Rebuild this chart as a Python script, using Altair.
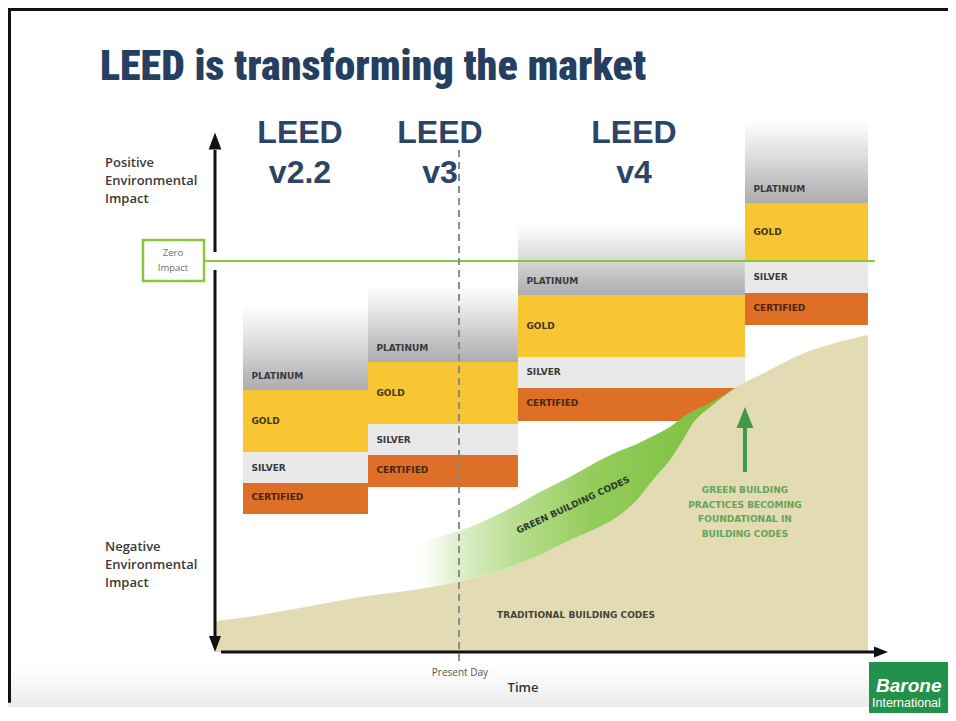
import altair as alt
import pandas as pd

# ------------------------------------------------------------------ data
TITLE = "LEED is transforming the market"

# rating columns (time units: 0 = vertical axis, 100 = arrow tip;
# impact units: 0 = zero impact, -100 = horizontal axis)
col_version = ["v2.2", "v3", "v4", "future"]
col_start = [4.16, 22.73, 45.02, 78.75]
col_end = [22.73, 45.02, 78.75, 97.03]
platinum_top = [-11.25, -6.14, 9.21, 36.06]
platinum_bottom = [-32.99, -25.83, -8.70, 14.83]
gold_bottom = [-48.85, -41.69, -24.55, 0.0]
silver_bottom = [-56.78, -49.62, -32.48, -8.18]
certified_bottom = [-64.70, -57.80, -40.92, -16.37]
level_names = ["PLATINUM", "GOLD", "SILVER", "CERTIFIED"]

header_line1 = ["LEED", "LEED", "LEED"]
header_line2 = ["v2.2", "v3", "v4"]
header_center = [12.63, 33.43, 62.26]

# traditional building codes curve
trad_time = [0.15, 6.69, 12.63, 22.59, 30.46, 37.89, 44.28, 48.29, 52.75, 56.17,
             59.73, 62.71, 65.08, 67.61, 69.54, 71.03, 73.55, 77.27, 80.98, 87.22,
             92.13, 97.03]
trad_impact = [-92.07, -90.54, -88.75, -85.68, -83.89, -81.33, -78.00, -75.19, -71.35,
               -68.80, -65.47, -61.12, -56.01, -50.89, -45.78, -41.43, -37.34, -32.48,
               -29.16, -23.78, -20.97, -18.93]

# green building codes band
green_time = [30.46, 37.89, 44.28, 48.29, 52.75, 56.17, 59.73, 62.71, 65.08, 67.61,
              69.54, 71.03, 73.55, 77.27]
green_upper = [-71.87, -68.03, -62.91, -59.08, -55.24, -51.92, -48.85, -46.80, -44.76,
               -42.45, -39.90, -38.36, -36.32, -32.48]
green_lower = [-83.89, -81.33, -78.00, -75.19, -71.35, -68.80, -65.47, -61.12, -56.01,
               -50.89, -45.78, -41.43, -37.34, -32.48]

present_day = 36.26
axis_bottom = -100.0

# ------------------------------------------------------------------ scales
X = alt.Scale(domain=[-30.76, 108.92], nice=False, zero=False)
Y = alt.Scale(domain=[-115.60, 64.70], nice=False, zero=False)


def xe(f):
    return alt.X(f, type="quantitative", scale=X, axis=None)


def ye(f):
    return alt.Y(f, type="quantitative", scale=Y, axis=None)


def grad(stops, vertical=True):
    st = [alt.GradientStop(offset=o, color=c) for o, c in stops]
    if vertical:
        return alt.LinearGradient(gradient="linear", stops=st, x1=0, x2=0, y1=1, y2=0)
    return alt.LinearGradient(gradient="linear", stops=st, x1=0, x2=1, y1=0, y2=0)


layers = []

# footer shade
footer = pd.DataFrame({"x": [-30.76], "x2": [97.18], "y": [-104.1], "y2": [-114.06]})
layers.append(alt.Chart(footer).mark_rect(
    color=grad([(0, "#ebebeb"), (1, "#ffffff")])).encode(
    x=xe("x"), x2="x2", y=ye("y"), y2="y2"))

# frame
frame_h = pd.DataFrame({"x": [-30.76], "x2": [108.92], "y": [64.32]})
layers.append(alt.Chart(frame_h).mark_rule(color="#111", strokeWidth=3).encode(
    x=xe("x"), x2="x2", y=ye("y")))
frame_v = pd.DataFrame({"x": [-30.54], "y": [64.70], "y2": [-113.0]})
layers.append(alt.Chart(frame_v).mark_rule(color="#111", strokeWidth=3).encode(
    x=xe("x"), y=ye("y"), y2="y2"))

# platinum (gradient) blocks
plat = pd.DataFrame({"x": col_start, "x2": col_end, "y": platinum_top, "y2": platinum_bottom})
layers.append(alt.Chart(plat).mark_rect(
    color=grad([(0, "#adadb0"), (0.2, "#bdbdbf"), (0.55, "#dcdcdd"), (0.85, "#f4f4f4"), (1, "#ffffff")])
).encode(x=xe("x"), x2="x2", y=ye("y2"), y2="y"))

# gold / silver / certified blocks
rows = []
for i in range(4):
    for lev, hi, lo in zip(level_names[1:],
                           [platinum_bottom, gold_bottom, silver_bottom],
                           [gold_bottom, silver_bottom, certified_bottom]):
        rows.append({"version": col_version[i], "level": lev, "x": col_start[i],
                     "x2": col_end[i], "hi": hi[i], "lo": lo[i]})
bars = pd.DataFrame(rows)
layers.append(alt.Chart(bars).mark_rect().encode(
    x=xe("x"), x2="x2", y=ye("lo"), y2="hi",
    color=alt.Color("level:N", legend=None,
                    scale=alt.Scale(domain=level_names[1:],
                                    range=["#f8c633", "#e9e9ea", "#de6f27"]))))

# traditional building codes area
trad = pd.DataFrame({"t": trad_time, "v": trad_impact, "base": axis_bottom})
layers.append(alt.Chart(trad).mark_area(color="#e2dbb4", interpolate="monotone").encode(
    x=xe("t"), y=ye("v"), y2="base"))

# green building codes band
green = pd.DataFrame({"t": green_time, "hi": green_upper, "lo": green_lower})
layers.append(alt.Chart(green).mark_area(
    interpolate="monotone",
    color=grad([(0, "rgba(230,244,215,0)"), (0.1, "#e3f1d3"), (0.3, "#b9de92"),
                (0.55, "#93cc5a"), (1, "#79bf3d")], vertical=False)).encode(
    x=xe("t"), y=ye("hi"), y2="lo"))

# level labels
lab_rows = []
for i in range(4):
    ys = [platinum_bottom[i] + 3.5,
          (platinum_bottom[i] + gold_bottom[i]) / 2,
          (gold_bottom[i] + silver_bottom[i]) / 2,
          (silver_bottom[i] + certified_bottom[i]) / 2 + 0.3]
    for lev, yv in zip(level_names, ys):
        lab_rows.append({"level": lev, "x": col_start[i] + 1.25, "y": yv})
labels = pd.DataFrame(lab_rows)
layers.append(alt.Chart(labels).mark_text(
    align="left", baseline="middle", font="DejaVu Sans", fontSize=9, fontWeight="bold").encode(
    x=xe("x"), y=ye("y"), text="level:N",
    color=alt.Color("level:N", legend=None,
                    scale=alt.Scale(domain=level_names,
                                    range=["#3a3a3c", "#433719", "#3a3a3c", "#4c2410"]))))

# zero impact line and box
zero_line = pd.DataFrame({"x": [-1.63], "x2": [98.07], "y": [0.0]})
layers.append(alt.Chart(zero_line).mark_rule(color="#8cc63f", strokeWidth=2).encode(
    x=xe("x"), x2="x2", y=ye("y")))
zero_box = pd.DataFrame({"x": [-10.70], "x2": [-1.63], "y": [5.37], "y2": [-5.12]})
layers.append(alt.Chart(zero_box).mark_rect(fill="white", stroke="#8cc63f", strokeWidth=2.5).encode(
    x=xe("x"), x2="x2", y=ye("y"), y2="y2"))
zero_txt = pd.DataFrame({"x": [-6.24], "y": [2.05], "t": ["Zero\nImpact"]})
layers.append(alt.Chart(zero_txt).mark_text(
    font="Open Sans", fontSize=9.5, color="#6b6b6b", lineBreak="\n", lineHeight=15,
    baseline="middle", align="center").encode(x=xe("x"), y=ye("y"), text="t:N"))

# present-day dashed line
pd_line = pd.DataFrame({"x": [present_day], "y": [28.39], "y2": [-103.58]})
layers.append(alt.Chart(pd_line).mark_rule(color="#8a8a8a", strokeWidth=2, strokeDash=[7, 5]).encode(
    x=xe("x"), y=ye("y"), y2="y2"))

# axes
yaxis = pd.DataFrame({"x": [0.0, 0.0], "y": [28.39, -2.30], "y2": [2.30, -96.42]})
layers.append(alt.Chart(yaxis).mark_rule(color="#111", strokeWidth=3).encode(
    x=xe("x"), y=ye("y"), y2="y2"))
xaxis = pd.DataFrame({"x": [0.9], "x2": [98.0], "y": [axis_bottom]})
layers.append(alt.Chart(xaxis).mark_rule(color="#111", strokeWidth=3).encode(
    x=xe("x"), x2="x2", y=ye("y")))
up_head = pd.DataFrame({"x": [0.0], "y": [30.69]})
layers.append(alt.Chart(up_head).mark_point(
    shape="M-0.75,1L0,-1L0.75,1Z", filled=True, size=289, color="#111", opacity=1).encode(
    x=xe("x"), y=ye("y")))
down_head = pd.DataFrame({"x": [0.0], "y": [-97.95]})
layers.append(alt.Chart(down_head).mark_point(
    shape="M-0.75,-1L0,1L0.75,-1Z", filled=True, size=256, color="#111", opacity=1).encode(
    x=xe("x"), y=ye("y")))
right_head = pd.DataFrame({"x": [98.96], "y": [axis_bottom]})
layers.append(alt.Chart(right_head).mark_point(
    shape="M-1,-0.8L1,0L-1,0.8Z", filled=True, size=196, color="#111", opacity=1).encode(
    x=xe("x"), y=ye("y")))

# green arrow
g_shaft = pd.DataFrame({"x": [78.75], "y": [-53.96], "y2": [-42.0]})
layers.append(alt.Chart(g_shaft).mark_rule(color="#3f9b48", strokeWidth=4).encode(
    x=xe("x"), y=ye("y"), y2="y2"))
g_head = pd.DataFrame({"x": [78.75], "y": [-40.03]})
layers.append(alt.Chart(g_head).mark_point(
    shape="M-0.8,1L0,-1L0.8,1Z", filled=True, size=441, color="#3f9b48", opacity=1).encode(
    x=xe("x"), y=ye("y")))

# texts
title = pd.DataFrame({"x": [-17.09], "y": [46.29], "t": [TITLE]})
layers.append(alt.Chart(title).mark_text(
    align="left", baseline="alphabetic",
    font="'Roboto Condensed', 'Noto Sans Condensed', 'Open Sans Condensed', 'Liberation Sans Narrow', Lato",
    fontSize=42, fontWeight=900, color="#263f60").encode(x=xe("x"), y=ye("y"), text="t:N"))

hdr = pd.DataFrame({"x": header_center, "t": [a + "\n" + b for a, b in zip(header_line1, header_line2)],
                    "y": [32.74] * 3})
layers.append(alt.Chart(hdr).mark_text(
    align="center", baseline="middle", font="Liberation Sans", fontSize=32, fontWeight="bold",
    color="#2b4468", lineBreak="\n", lineHeight=40).encode(x=xe("x"), y=ye("y"), text="t:N"))

side = pd.DataFrame({"x": [-16.35, -16.35],
                     "y": [25.06, -73.16],
                     "t": ["Positive\nEnvironmental\nImpact", "Negative\nEnvironmental\nImpact"]})
layers.append(alt.Chart(side).mark_text(
    align="left", baseline="middle", font="Open Sans", fontSize=13, fontWeight=600,
    color="#3a3a3a", lineBreak="\n", lineHeight=18).encode(x=xe("x"), y=ye("y"), text="t:N"))

gbc = pd.DataFrame({"x": [53.2], "y": [-62.4], "t": ["GREEN BUILDING CODES"]})
layers.append(alt.Chart(gbc).mark_text(
    align="center", baseline="middle", font="DejaVu Sans", fontSize=9, fontWeight="bold",
    color="#2f3a2c", angle=335).encode(x=xe("x"), y=ye("y"), text="t:N"))

tbc = pd.DataFrame({"x": [53.64], "y": [-90.54], "t": ["TRADITIONAL BUILDING CODES"]})
layers.append(alt.Chart(tbc).mark_text(
    align="center", baseline="middle", font="DejaVu Sans", fontSize=9, fontWeight="bold",
    color="#45443c").encode(x=xe("x"), y=ye("y"), text="t:N"))

gtxt = pd.DataFrame({"x": [78.75], "y": [-58.57],
                     "t": ["GREEN BUILDING\nPRACTICES BECOMING\nFOUNDATIONAL IN\nBUILDING CODES"]})
layers.append(alt.Chart(gtxt).mark_text(
    align="center", baseline="middle", font="DejaVu Sans", fontSize=9, fontWeight="bold",
    color="#64a558", lineBreak="\n", lineHeight=14.5).encode(x=xe("x"), y=ye("y"), text="t:N"))

pdt = pd.DataFrame({"x": [36.4], "y": [-105.37], "t": ["Present Day"]})
layers.append(alt.Chart(pdt).mark_text(
    align="center", baseline="middle", font="Open Sans", fontSize=10, color="#555").encode(
    x=xe("x"), y=ye("y"), text="t:N"))
timet = pd.DataFrame({"x": [45.77], "y": [-109.2], "t": ["Time"]})
layers.append(alt.Chart(timet).mark_text(
    align="center", baseline="middle", font="Open Sans", fontSize=13, fontWeight=600,
    color="#333").encode(x=xe("x"), y=ye("y"), text="t:N"))

# logo
logo = pd.DataFrame({"x": [97.18], "x2": [108.92], "y": [-102.56], "y2": [-115.6]})
layers.append(alt.Chart(logo).mark_rect(color="#22924a").encode(
    x=xe("x"), x2="x2", y=ye("y"), y2="y2"))
logo1 = pd.DataFrame({"x": [98.22], "y": [-108.69], "t": ["Barone"]})
layers.append(alt.Chart(logo1).mark_text(
    align="left", baseline="middle", font="Liberation Sans", fontSize=19, fontWeight="bold",
    fontStyle="italic", color="white").encode(x=xe("x"), y=ye("y"), text="t:N"))
logo2 = pd.DataFrame({"x": [97.63], "y": [-113.04], "t": ["International"]})
layers.append(alt.Chart(logo2).mark_text(
    align="left", baseline="middle", font="Liberation Sans", fontSize=12.5,
    color="white").encode(x=xe("x"), y=ye("y"), text="t:N"))

chart = alt.layer(*layers).resolve_scale(color="independent").properties(
    width=940, height=705, padding=0, background="white",
    autosize=alt.AutoSizeParams(type="none"),
).configure_view(stroke=None)

chart.save("out.html", embed_options={"renderer": "svg", "actions": False})
